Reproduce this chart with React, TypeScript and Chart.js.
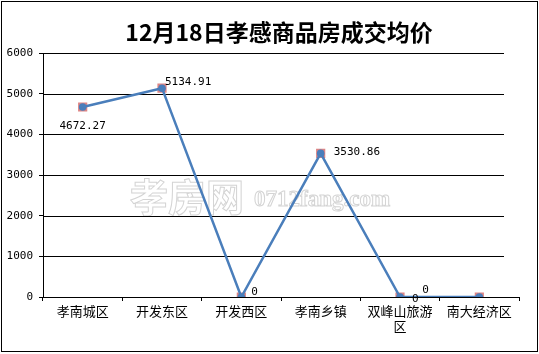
import React, { useEffect, useRef } from "react";
import { Chart, registerables } from "chart.js";

Chart.register(...registerables);

const TITLE = "12月18日孝感商品房成交均价";
const categories: (string | string[])[] = ["孝南城区", "开发东区", "开发西区", "孝南乡镇", ["双峰山旅游", "区"], "南大经济区"];
const prices = [4672.27, 5134.91, 0, 3530.86, 0, 0];
const valueLabels = ["4672.27", "5134.91", "0", "3530.86", "0", "0"];
const yTicks = [0, 1000, 2000, 3000, 4000, 5000, 6000];

// label placement (style): offsets of the text from its point, [dx, dy, align]
const labelPlacement: [number, number, CanvasTextAlign][] = [
  [0, 19, "center"],
  [3, -6, "left"],
  [10, -5, "left"],
  [13, -1, "left"],
  [12, 2, "left"],
  [-57, -7, "left"],
];

const decorPlugin = {
  id: "decor",
  beforeDatasetsDraw(chart: any) {
    const { ctx, chartArea, scales } = chart;
    const y = scales.y;
    ctx.save();
    // watermark
    ctx.strokeStyle = "#d4d4d4";
    ctx.lineWidth = 1;
    ctx.textBaseline = "middle";
    ctx.textAlign = "left";
    ctx.font = "bold 38px 'Noto Sans CJK SC'";
    ctx.strokeText("孝房网", 130, 197);
    ctx.font = "bold 23px 'Liberation Serif'";
    ctx.strokeText("0712fang.com", 254, 200);
    // gridlines
    ctx.strokeStyle = "#000";
    ctx.lineWidth = 1;
    for (const v of yTicks) {
      if (v === 0) continue;
      const py = Math.round(y.getPixelForValue(v)) + 0.5;
      ctx.beginPath();
      ctx.moveTo(chartArea.left, py);
      ctx.lineTo(chartArea.right - 15, py);
      ctx.stroke();
    }
    ctx.restore();
  },
  afterDatasetsDraw(chart: any) {
    const { ctx } = chart;
    const meta = chart.getDatasetMeta(1);
    ctx.save();
    ctx.fillStyle = "#000";
    ctx.font = "11px 'DejaVu Sans Mono'";
    ctx.textBaseline = "middle";
    meta.data.forEach((pt: any, i: number) => {
      const [dx, dy, align] = labelPlacement[i];
      ctx.textAlign = align;
      ctx.fillText(valueLabels[i], pt.x + dx, pt.y + dy);
    });
    // title
    ctx.font = "bold 23px 'Noto Sans CJK SC'";
    ctx.textAlign = "center";
    ctx.textBaseline = "middle";
    ctx.fillText(TITLE, 279, 32);
    // outer border
    ctx.strokeStyle = "#000";
    ctx.lineWidth = 1;
    ctx.strokeRect(1.5, 1.5, 536, 350);
    ctx.restore();
  },
};

export default function App() {
  const ref = useRef<HTMLCanvasElement | null>(null);
  useEffect(() => {
    document.body.style.margin = "0";
    const chart = new Chart(ref.current as HTMLCanvasElement, {
      type: "line",
      data: {
        labels: categories as any,
        datasets: [
          {
            data: prices,
            showLine: false,
            pointStyle: "rect",
            pointRadius: 6.5,
            pointBackgroundColor: "rgba(215,110,110,0.85)",
            pointBorderColor: "rgba(215,110,110,0.85)",
            pointBorderWidth: 0,
            order: 2,
          },
          {
            data: prices,
            borderColor: "#4a7ebb",
            borderWidth: 2.5,
            pointStyle: "circle",
            pointRadius: 3.8,
            pointBackgroundColor: "#4a7ebb",
            pointBorderColor: "#4a7ebb",
            pointBorderWidth: 0,
            tension: 0,
            order: 1,
          },
        ],
      },
      options: {
        responsive: false,
        animation: false,
        layout: { padding: { top: 53, right: 20, left: 0, bottom: 0 } },
        plugins: { legend: { display: false }, tooltip: { enabled: false }, title: { display: false } },
        scales: {
          x: {
            offset: true,
            border: { display: true, color: "#000", width: 1 },
            grid: { offset: true, drawOnChartArea: false, drawTicks: true, tickLength: 4, color: "#000" },
            ticks: {
              color: "#000",
              font: { family: "'Noto Sans CJK SC'", size: 13 },
              padding: 2,
              maxRotation: 0,
              autoSkip: false,
            },
            afterFit: (s: any) => {
              s.height = 57;
            },
          },
          y: {
            min: 0,
            max: 6000,
            border: { display: true, color: "#000", width: 1 },
            grid: { drawOnChartArea: false, drawTicks: true, tickLength: 4, color: "#000" },
            ticks: {
              stepSize: 1000,
              color: "#000",
              font: { family: "'DejaVu Sans Mono'", size: 11 },
              padding: 6,
              callback: (v: any) => String(v),
            },
            afterFit: (s: any) => {
              s.width = 43;
            },
          },
        },
      },
      plugins: [decorPlugin],
    });
    return () => chart.destroy();
  }, []);
  return <canvas ref={ref} width={539} height={354} style={{ display: "block" }} />;
}
